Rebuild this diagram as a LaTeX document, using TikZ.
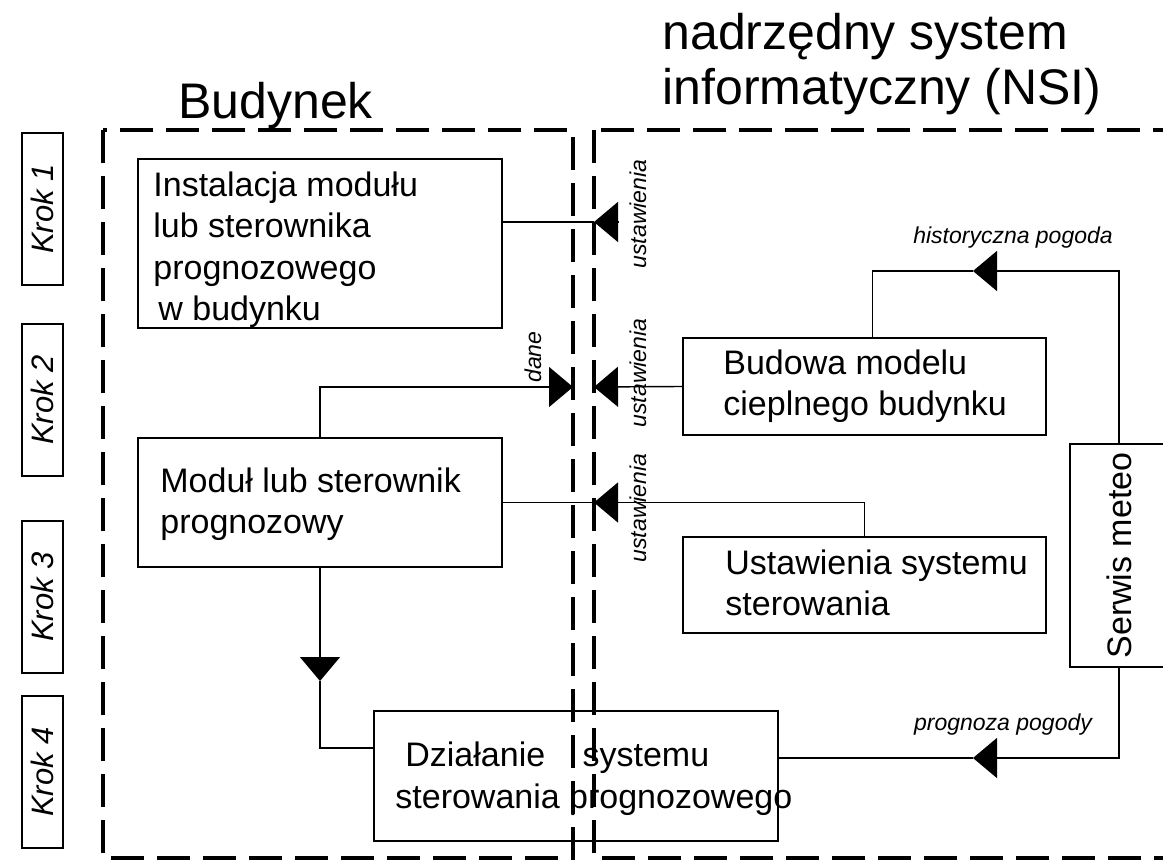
\documentclass[tikz,border=0pt]{standalone}
\usepackage{fontspec}
\setmainfont{Liberation Sans}
\usetikzlibrary{arrows.meta}

\begin{document}
\begin{tikzpicture}
[x=0.5pt,y=-0.5pt,
 bl/.style={draw,line width=0.9pt,inner sep=0pt},
 tx/.style={anchor=base west,align=left,inner sep=0pt,font=\fontsize{17}{20.75}\selectfont},
 kr/.style={draw,line width=0.9pt,rotate=90,minimum width=76pt,minimum height=20.5pt,inner sep=0pt,font=\fontsize{15.5}{18}\selectfont\itshape},
 et/.style={inner sep=0pt,font=\fontsize{11.5}{13}\selectfont\itshape},
 ar/.style={line width=0.7pt,-{Triangle[length=12pt,width=20pt]}},
 li/.style={line width=0.7pt},
 ob/.style={line width=2pt,dash pattern=on 16.5pt off 6.5pt}]
\clip (0,0) rectangle (1163,862);

% (base = ostatnia linia)
\node[anchor=base west,inner sep=0pt,font=\fontsize{25}{27.5}\selectfont] (bud) at (178,118) {Budynek};
\node[anchor=base west,align=left,inner sep=0pt,font=\fontsize{25}{27.5}\selectfont] (nsi) at (662,104) {nadrzędny system\\informatyczny (NSI)};

\node[kr] (k1) at (42.5,209) {Krok 1};
\node[kr] (k2) at (42.5,400) {Krok 2};
\node[kr] (k3) at (42.5,597) {Krok 3};
\node[kr] (k4) at (42.5,772) {Krok 4};

\node[bl,minimum width=182pt,minimum height=84.5pt] (inst) at (320,243.5) {};
\node[tx] at (153,320.5) {Instalacja modułu\\lub sterownika\\prognozowego\\\hspace*{2.5pt}w budynku};
\node[bl,minimum width=182pt,minimum height=64.5pt] (modul) at (320,502.5) {};
\node[tx] at (160,533.5) {Moduł lub sterownik\\prognozowy};
\node[bl,minimum width=181.5pt,minimum height=48.5pt] (budowa) at (864.5,386.5) {};
\node[tx] at (723,415.5) {Budowa modelu\\cieplnego budynku};
\node[bl,minimum width=181.5pt,minimum height=48pt] (ustaw) at (864.5,585) {};
\node[tx] at (725,615.5) {Ustawienia systemu\\sterowania};
\node[bl,minimum width=202pt,minimum height=65pt] (dzial) at (576,776) {};
\node[tx] at (395,808) {\hspace*{5pt}Działanie\hspace{14pt} systemu\\sterowania prognozowego};
\node[bl,rotate=90,minimum width=111.5pt,minimum height=49pt,font=\fontsize{17}{20}\selectfont] (serwis) at (1119,555.5) {Serwis meteo};

\coordinate (b1) at (618,222);
\coordinate (t1) at (594,222);
\coordinate (t2) at (573,387);
\coordinate (t3) at (594,387);
\coordinate (t4) at (594,502.5);
\coordinate (t5) at (320,681);
\coordinate (t6) at (973,758);
\coordinate (t7) at (973,271);

% krok 1
\draw[ar] (b1) -- (t1);
\draw[li] (t1) -- (inst.east |- t1);
% krok 2
\draw[ar] (modul.north) |- (t2);
\draw[ar] (budowa.west) -- (t3);
% krok 3
\draw[ar] (ustaw.north) |- (t4);
\draw[li] (t4) -- (modul.east);
\draw[ar] (modul.south) -- (t5);
\draw[li] (t5) |- ([yshift=14pt]dzial.west);
% krok 4
\draw[ar] (serwis.west) |- (t6);
\draw[li] (t6) -- (dzial.east |- t6);
\draw[ar] (serwis.east) |- (t7);
\draw[li] (t7) -| ([xshift=4pt]budowa.north);

\node[et,rotate=90] (u1) at (638,214) {ustawienia};
\node[et,rotate=90] (u2) at (638,373) {ustawienia};
\node[et,rotate=90] (u3) at (638,508) {ustawienia};
\node[et,rotate=90] (dane) at (533,357) {dane};
\node[et] (hist) at (1013,238) {historyczna pogoda};
\node[et] (prog) at (1003,725) {prognoza pogody};

% ramki
\draw[ob] (103,130) rectangle (573,858);
\draw[ob] (594,130) rectangle (1220,858);
\end{tikzpicture}
\end{document}
